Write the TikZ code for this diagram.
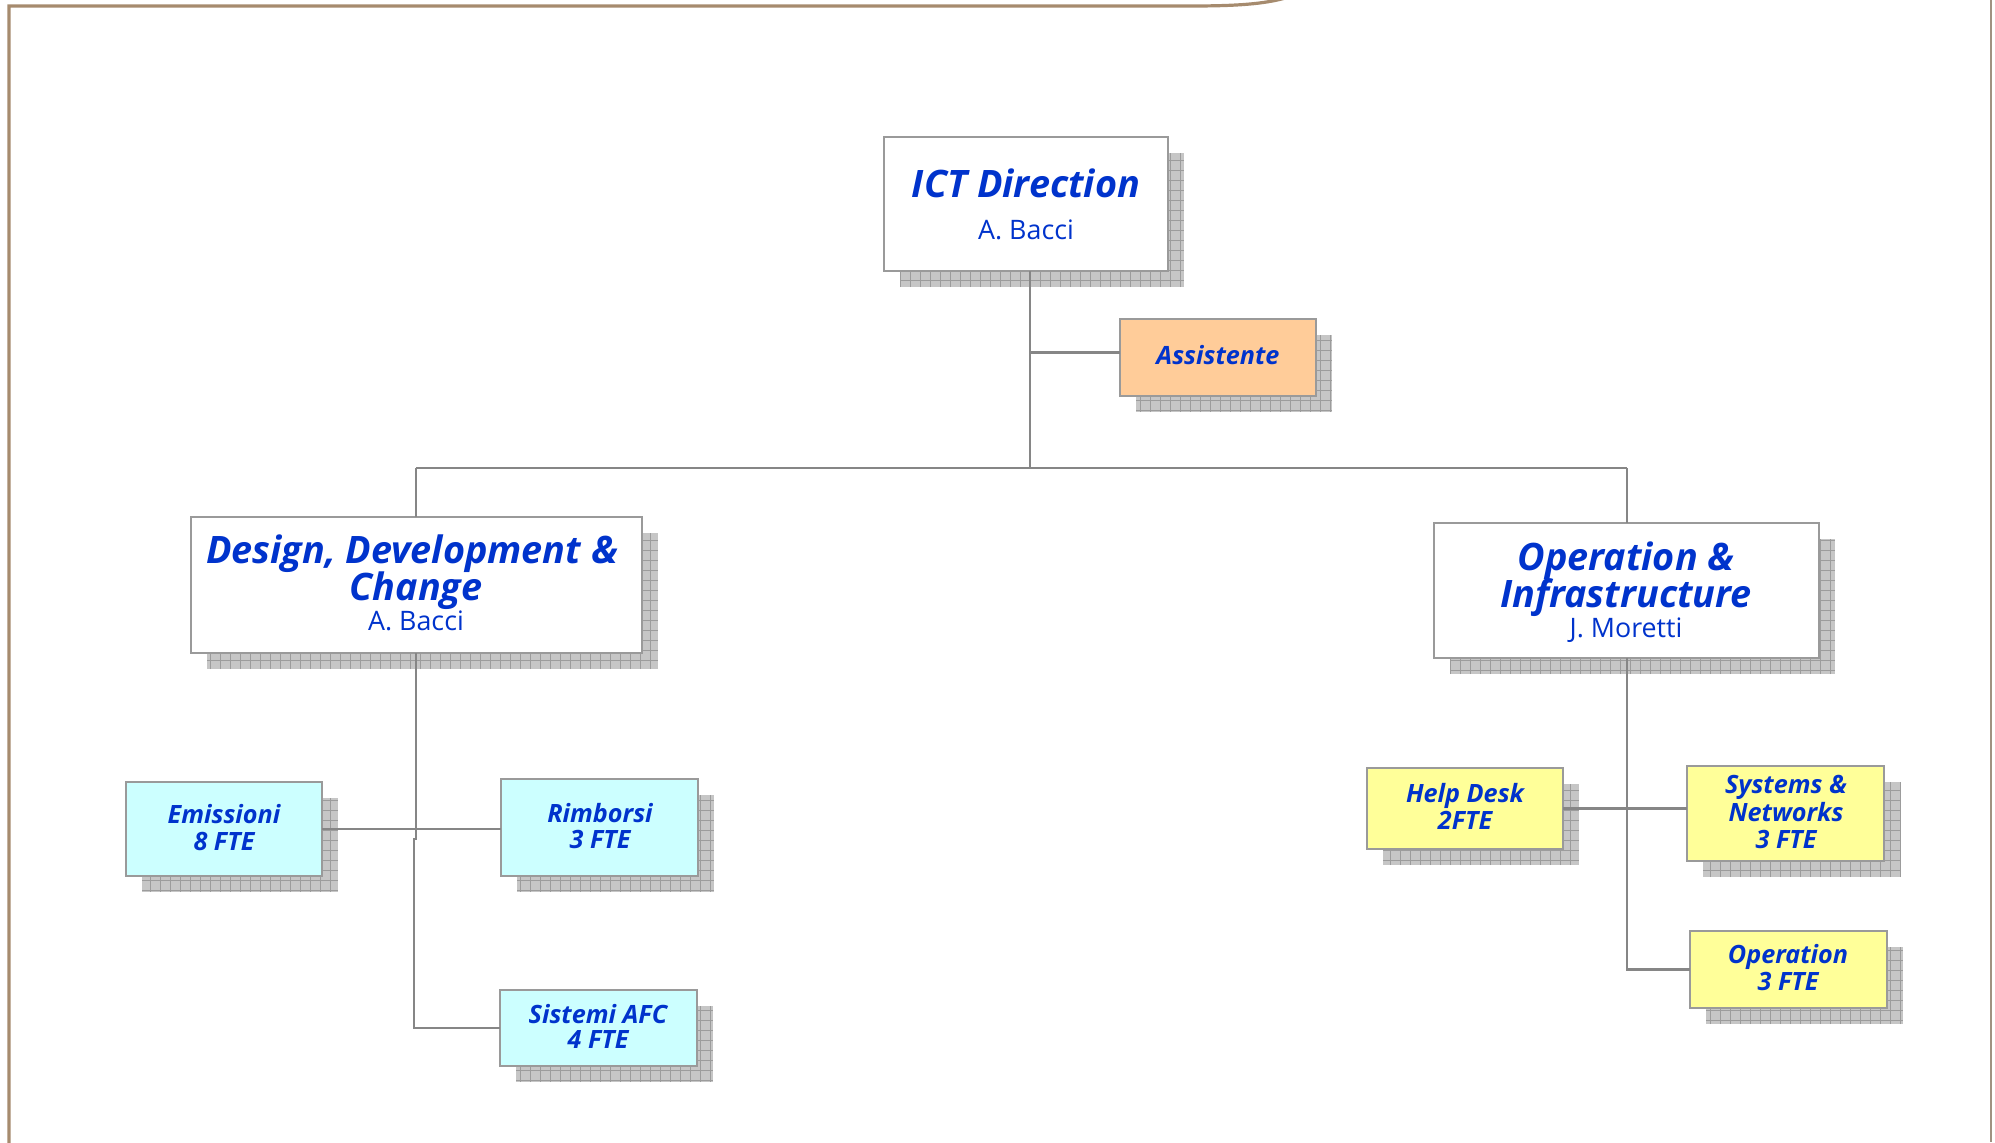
\documentclass[tikz,border=0pt]{standalone}
\usepackage{fontspec}
\setmainfont{Open Sans}
\usetikzlibrary{backgrounds}
\definecolor{tblue}{HTML}{0033CC}
\definecolor{cyn}{HTML}{CCFFFF}
\definecolor{ylw}{HTML}{FFFF99}
\definecolor{orng}{HTML}{FFCC99}
\definecolor{framec}{HTML}{A68B6E}
\definecolor{framer}{HTML}{A09282}
\definecolor{boxline}{HTML}{9A9A9A}
\definecolor{connline}{HTML}{868686}
\definecolor{shcol}{HTML}{C6C6C6}
\definecolor{shline}{HTML}{9C9C9C}
\tikzset{
 box/.style={draw=boxline, line width=0.8pt, inner sep=0pt, outer sep=0pt},
 ttl/.style={text=tblue, font=\fontsize{18.9}{20}\selectfont\bfseries\itshape, inner sep=0pt, anchor=base},
 nm/.style={text=tblue, font=\fontsize{13.4}{15}\selectfont, inner sep=0pt, anchor=base},
 sm/.style={text=tblue, font=\fontsize{12.6}{14}\selectfont\bfseries\itshape, inner sep=0pt, anchor=base},
 conn/.style={draw=connline, line width=1.3pt},
 connthin/.style={draw=connline, line width=0.7pt},
 shfill/.style={fill=shcol},
 shgrid/.style={draw=shline, line width=0.35pt, step=5pt},
}
\newcommand\dropshadow[1]{%
 \begin{pgfonlayer}{background}
 \path ([shift={(16,16)}]#1.north west) coordinate (#1-s1)
       ([shift={(16,16)}]#1.south east) coordinate (#1-s2);
 \fill[shfill] (#1-s1) rectangle (#1-s2);
 \draw[shgrid] (#1-s1) grid (#1-s2);
 \end{pgfonlayer}}
\begin{document}
\begin{tikzpicture}[x=0.5pt,y=-0.5pt]
\useasboundingbox (0,0) rectangle (1995,1142);
% frame
\draw[draw=framec, line width=1.6pt] (9,1150) -- (9,6) -- (1190,6) .. controls (1238,6) and (1268,4) .. (1292,-4);
\draw[draw=framer, line width=0.6pt] (1991,0) -- (1991,1142);
% boxes
\node[box, fill=white, minimum width=142pt, minimum height=67pt] (ict) at (1026,204) {};
\node[box, fill=orng, minimum width=98pt, minimum height=38.5pt] (asst) at (1218,357.5) {};
\node[box, fill=white, minimum width=225.5pt, minimum height=68pt] (ddc) at (416.5,585) {};
\node[box, fill=white, minimum width=192.5pt, minimum height=67.5pt] (oi) at (1626.5,590.5) {};
\node[box, fill=cyn, minimum width=98pt, minimum height=47pt] (emi) at (224,829) {};
\node[box, fill=cyn, minimum width=98.5pt, minimum height=48.5pt] (rim) at (599.5,827.5) {};
\node[box, fill=cyn, minimum width=98.5pt, minimum height=38pt] (afc) at (598.5,1028) {};
\node[box, fill=ylw, minimum width=98pt, minimum height=40.5pt] (help) at (1465,808.5) {};
\node[box, fill=ylw, minimum width=98.5pt, minimum height=47.5pt] (sys) at (1785.5,813.5) {};
\node[box, fill=ylw, minimum width=98.5pt, minimum height=38.5pt] (ops) at (1788.5,969.5) {};
\dropshadow{ict}\dropshadow{asst}\dropshadow{ddc}\dropshadow{oi}
\dropshadow{emi}\dropshadow{rim}\dropshadow{afc}
\dropshadow{help}\dropshadow{sys}\dropshadow{ops}
% texts
\node[ttl] (ict-t) at (1026,197) {ICT Direction};
\node[nm] (ict-n) at (1026,239) {A. Bacci};
\node[sm] (asst-t) at (1218,364) {Assistente};
\node[ttl] (ddc-t1) at (412,563) {Design, Development \&};
\node[ttl] (ddc-t2) at (416,600) {Change};
\node[nm] (ddc-n) at (416,630) {A. Bacci};
\node[ttl] (oi-t1) at (1626,570) {Operation \&};
\node[ttl] (oi-t2) at (1626,607) {Infrastructure};
\node[nm] (oi-n) at (1626,637) {J. Moretti};
\node[sm] (emi-t1) at (224,823) {Emissioni};
\node[sm] (emi-t2) at (224,850) {8 FTE};
\node[sm] (rim-t1) at (600,822) {Rimborsi};
\node[sm] (rim-t2) at (600,848) {3 FTE};
\node[sm] (afc-t1) at (598,1023) {Sistemi AFC};
\node[sm] (afc-t2) at (598,1048) {4 FTE};
\node[sm] (help-t1) at (1465,802) {Help Desk};
\node[sm] (help-t2) at (1465,829) {2FTE};
\node[sm] (sys-t1) at (1786,793) {Systems \&};
\node[sm] (sys-t2) at (1786,821) {Networks};
\node[sm] (sys-t3) at (1786,848) {3 FTE};
\node[sm] (ops-t1) at (1788,963) {Operation};
\node[sm] (ops-t2) at (1788,990) {3 FTE};
% connectors
\coordinate (j0) at (1030,468);
\coordinate (jl) at (416,468);
\coordinate (jr) at (1627,468);
\draw[connthin] (ict.south -| j0) -- (j0);
\draw[connthin] (jl) -- (jr);
\draw[connthin] (jl) -- (ddc.north -| jl);
\draw[connthin] (jr) -- (oi.north -| jr);
\draw[conn] ([yshift=2.5pt]asst.west) -- ([yshift=2.5pt]asst.west -| j0);
\coordinate (d1) at (416,840);
\coordinate (d1b) at (414,838);
\coordinate (d2) at (414,1028);
\draw[conn] (ddc.south -| d1) -- (d1);
\draw[conn] (emi.east) -- (rim.west |- emi.east);
\draw[conn] (d1b) -- (d2) -- (afc.west);
\coordinate (o1) at (1627,969.5);
\draw[conn] (oi.south -| o1) -- (o1) -- (ops.west);
\draw[conn] (help.east) -- (help.east -| sys.west);
\end{tikzpicture}
\end{document}
